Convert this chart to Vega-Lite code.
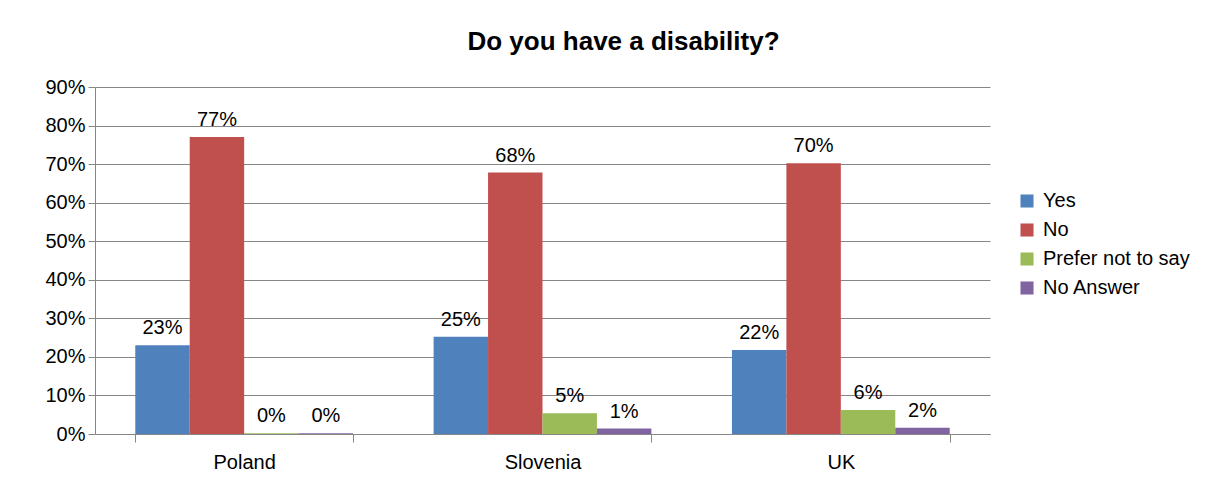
{
  "$schema": "https://vega.github.io/schema/vega-lite/v6.json",
  "autosize": {"type": "none"},
  "width": 895,
  "height": 347,
  "padding": {"left": 95, "top": 87, "right": 229, "bottom": 47},
  "background": "white",
  "title": {"text": "Do you have a disability?", "font": "Liberation Sans", "fontSize": 26, "fontWeight": "bold", "color": "#000000", "anchor": "middle", "dx": 81, "offset": 22},
  "config": {
    "view": {"stroke": null},
    "font": "Liberation Sans"
  },
  "data": {"values": [
    {"country": "Poland", "answer": "Yes", "value": 0.23},
    {"country": "Poland", "answer": "No", "value": 0.77},
    {"country": "Poland", "answer": "Prefer not to say", "value": 0.002},
    {"country": "Poland", "answer": "No Answer", "value": 0.002},
    {"country": "Slovenia", "answer": "Yes", "value": 0.252},
    {"country": "Slovenia", "answer": "No", "value": 0.678},
    {"country": "Slovenia", "answer": "Prefer not to say", "value": 0.054},
    {"country": "Slovenia", "answer": "No Answer", "value": 0.014},
    {"country": "UK", "answer": "Yes", "value": 0.218},
    {"country": "UK", "answer": "No", "value": 0.702},
    {"country": "UK", "answer": "Prefer not to say", "value": 0.062},
    {"country": "UK", "answer": "No Answer", "value": 0.016}
  ]},
  "encoding": {
    "x": {"field": "country", "type": "nominal", "sort": null,
      "scale": {"paddingInner": 0.27, "paddingOuter": 0.135},
      "axis": {"title": null, "labelAngle": 0, "labelFontSize": 20, "labelColor": "#000000", "labelPadding": 10, "tickBand": "extent", "tickSize": 8, "tickColor": "#868686", "domainColor": "#868686", "grid": false}},
    "xOffset": {"field": "answer", "type": "nominal", "sort": ["Yes", "No", "Prefer not to say", "No Answer"], "scale": {"paddingInner": 0, "paddingOuter": 0}},
    "y": {"field": "value", "type": "quantitative",
      "scale": {"domain": [0, 0.9], "nice": false},
      "axis": {"title": null, "format": ".0%", "values": [0, 0.1, 0.2, 0.3, 0.4, 0.5, 0.6, 0.7, 0.8, 0.9], "labelFontSize": 20, "labelColor": "#000000", "labelPadding": 3, "tickSize": 7, "tickColor": "#868686", "domainColor": "#868686", "gridColor": "#868686", "gridWidth": 1}}
  },
  "layer": [
    {
      "mark": {"type": "bar"},
      "encoding": {
        "color": {"field": "answer", "type": "nominal", "sort": ["Yes", "No", "Prefer not to say", "No Answer"],
          "scale": {"domain": ["Yes", "No", "Prefer not to say", "No Answer"], "range": ["#4F81BD", "#C0504D", "#9BBB59", "#8064A2"]},
          "legend": {"title": null, "orient": "none", "legendX": 922, "legendY": 104, "symbolType": "square", "symbolSize": 170, "symbolStrokeWidth": 0, "labelFontSize": 20, "labelColor": "#000000", "rowPadding": 9, "labelOffset": 6}}
      }
    },
    {
      "mark": {"type": "text", "baseline": "alphabetic", "dy": -11, "fontSize": 20, "color": "#000000"},
      "encoding": {
        "text": {"field": "value", "type": "quantitative", "format": ".0%"}
      }
    }
  ]
}
